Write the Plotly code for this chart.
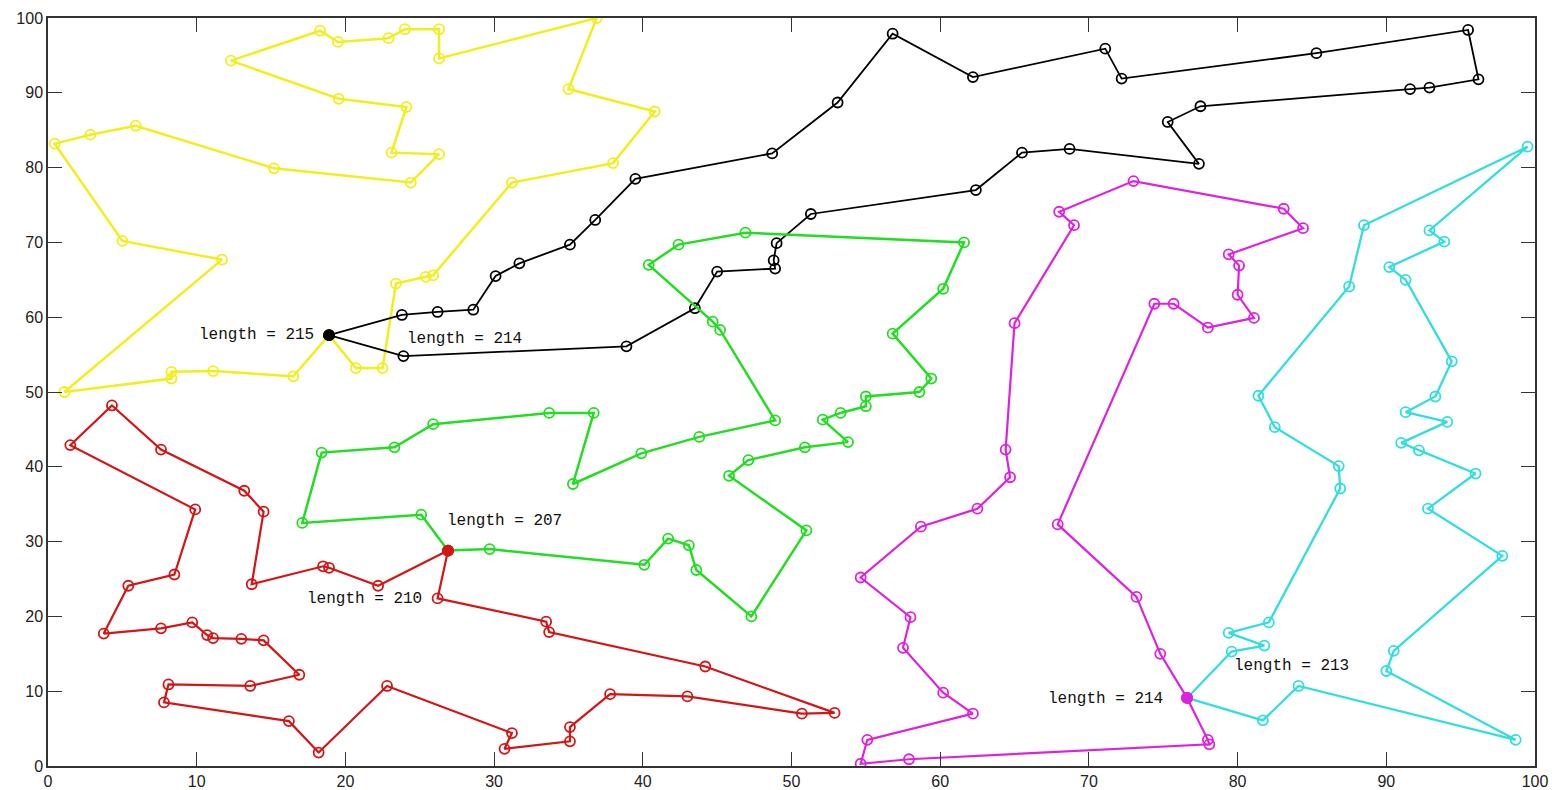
import plotly.graph_objects as go

# Vehicle routes (closed tours starting and ending at their depot)
yellow_x = [18.9, 20.7, 22.5, 23.4, 25.4, 25.9, 31.2, 38.0, 40.8, 35.0, 36.9, 26.3, 26.3, 24.0, 22.9, 19.5, 18.3, 12.3,
            19.55, 24.1, 23.1, 26.3, 24.4, 15.2, 5.9, 2.85, 0.45, 5.0, 11.7, 1.1, 8.3, 8.3, 11.1, 16.5, 18.9]
yellow_y = [57.6, 53.2, 53.2, 64.5, 65.4, 65.6, 78.0, 80.6, 87.5, 90.5, 100.0, 94.6, 98.5, 98.5, 97.3, 96.8, 98.3, 94.3,
            89.2, 88.1, 82.0, 81.8, 78.0, 79.9, 85.6, 84.4, 83.2, 70.2, 67.7, 50.0, 51.8, 52.7, 52.8, 52.1, 57.6]

black_x = [18.9, 23.8, 26.2, 28.6, 30.1, 31.7, 35.1, 36.8, 39.5, 48.7, 53.1, 56.8, 62.2, 71.1, 72.2, 85.3, 95.5, 96.2,
           92.9, 91.6, 77.5, 75.3, 77.4, 68.7, 65.5, 62.4, 51.3, 49.0, 48.8, 48.9, 45.0, 43.5, 38.9, 23.9, 18.9]
black_y = [57.6, 60.3, 60.7, 61.0, 65.5, 67.2, 69.7, 73.0, 78.5, 81.9, 88.7, 97.9, 92.1, 95.9, 91.9, 95.3, 98.4, 91.8,
           90.7, 90.5, 88.2, 86.1, 80.5, 82.5, 82.0, 77.0, 73.8, 69.9, 67.6, 66.5, 66.1, 61.2, 56.1, 54.8, 57.6]

red_x = [26.9, 26.2, 33.5, 33.7, 44.2, 52.9, 50.7, 43.0, 37.8, 35.1, 35.1, 30.7, 31.2, 22.8, 18.2, 16.2, 7.8, 8.1,
         13.6, 16.9, 14.5, 13.0, 11.1, 10.7, 9.7, 7.6, 3.75, 5.4, 8.5, 9.9, 1.5, 4.3, 7.6, 13.2, 14.5, 13.7, 18.5,
         18.9, 22.2, 26.9]
red_y = [28.8, 22.4, 19.3, 17.9, 13.3, 7.1, 7.0, 9.3, 9.6, 5.2, 3.3, 2.3, 4.4, 10.7, 1.8, 6.0, 8.5, 10.9,
         10.7, 12.2, 16.8, 17.0, 17.1, 17.5, 19.2, 18.4, 17.7, 24.1, 25.6, 34.3, 42.9, 48.2, 42.3, 36.8, 34.0, 24.3, 26.7,
         26.5, 24.1, 28.8]

green_x = [26.9, 29.7, 40.1, 41.7, 43.1, 43.6, 47.3, 51.0, 45.8, 47.1, 50.9, 53.8, 52.1, 53.3, 55.0, 55.0, 58.6, 59.4,
           56.8, 60.2, 61.6, 46.9, 42.4, 40.4, 44.7, 45.2, 48.9, 43.8, 39.9, 35.3, 36.7, 33.7, 25.9, 23.3, 18.4, 17.1,
           25.1, 26.9]
green_y = [28.8, 29.0, 26.9, 30.4, 29.5, 26.2, 20.0, 31.5, 38.8, 40.9, 42.6, 43.3, 46.3, 47.2, 48.1, 49.4, 50.0, 51.8,
           57.8, 63.8, 70.0, 71.3, 69.7, 67.0, 59.4, 58.3, 46.2, 44.0, 41.8, 37.7, 47.2, 47.2, 45.7, 42.6, 41.9, 32.5,
           33.6, 28.8]

magenta_x = [76.6, 74.8, 73.2, 67.9, 74.4, 75.7, 78.0, 81.1, 80.0, 80.1, 79.4, 84.4, 83.1, 73.0, 68.0, 69.0, 65.0, 64.4,
             64.7, 62.5, 58.7, 54.65, 58.0, 57.5, 60.2, 62.2, 55.1, 54.65, 57.9, 78.1, 78.0, 76.6]
magenta_y = [9.1, 15.0, 22.6, 32.3, 61.8, 61.8, 58.6, 59.9, 63.0, 66.9, 68.4, 71.9, 74.5, 78.2, 74.1, 72.3, 59.2, 42.3,
             38.6, 34.4, 32.0, 25.2, 19.9, 15.8, 9.8, 7.0, 3.5, 0.3, 0.9, 2.9, 3.5, 9.1]

cyan_x = [76.6, 79.6, 81.8, 79.4, 82.1, 86.9, 86.8, 82.5, 81.4, 87.5, 88.5, 99.5, 92.9, 93.9, 90.2, 91.3, 94.4, 93.3,
          91.3, 94.1, 91.0, 92.2, 96.0, 92.8, 97.8, 90.5, 90.0, 98.7, 84.1, 81.7, 76.6]
cyan_y = [9.1, 15.3, 16.1, 17.8, 19.2, 37.1, 40.1, 45.3, 49.5, 64.1, 72.3, 82.8, 71.6, 70.1, 66.7, 65.0, 54.1, 49.4,
          47.3, 46.0, 43.2, 42.2, 39.1, 34.4, 28.1, 15.4, 12.7, 3.5, 10.7, 6.1, 9.1]

route_lengths = [215, 214, 210, 207, 214, 213]
ticks = [0, 10, 20, 30, 40, 50, 60, 70, 80, 90, 100]

YELLOW, BLACK, RED = "#F2EE1E", "#000000", "#D41515"
GREEN, MAGENTA, CYAN = "#22DD22", "#DD22DD", "#33DDDD"

routes = [
    (yellow_x, yellow_y, YELLOW, 2.5),
    (black_x, black_y, BLACK, 1.8),
    (green_x, green_y, GREEN, 2.5),
    (red_x, red_y, RED, 2.2),
    (cyan_x, cyan_y, CYAN, 2.3),
    (magenta_x, magenta_y, MAGENTA, 2.2),
]

fig = go.Figure()
for xs, ys, color, lw in routes:
    fig.add_trace(go.Scatter(
        x=xs, y=ys, mode="lines+markers",
        line=dict(color=color, width=lw),
        marker=dict(symbol="circle-open", size=10, color=color, line=dict(width=1.8, color=color)),
        showlegend=False, hoverinfo="skip",
    ))

# filled depot markers, one per depot
depots = [
    (black_x[0], black_y[0], BLACK),
    (red_x[0], red_y[0], RED),
    (magenta_x[0], magenta_y[0], MAGENTA),
]
for dx, dy, color in depots:
    fig.add_trace(go.Scatter(
        x=[dx], y=[dy], mode="markers",
        marker=dict(symbol="circle", size=11, color=color),
        showlegend=False, hoverinfo="skip",
    ))

# route length labels: (x, y, anchor, length index)
label_specs = [
    (18.0, 57.6, "right", 0),
    (24.0, 57.1, "left", 1),
    (25.3, 22.3, "right", 2),
    (26.7, 32.8, "left", 3),
    (75.1, 9.0, "right", 4),
    (79.6, 13.4, "left", 5),
]
for lx, ly, anchor, idx in label_specs:
    fig.add_annotation(
        x=lx, y=ly, xref="x", yref="y", text=f"length = {route_lengths[idx]}",
        showarrow=False, xanchor=anchor, yanchor="middle",
        font=dict(family="Liberation Mono", size=16, color="#111111"),
    )

axis_common = dict(
    range=[0, 100], tickvals=ticks, ticktext=[str(t) for t in ticks],
    ticks="inside", ticklen=14, tickwidth=1.2, tickcolor="#333333",
    showline=True, linecolor="#333333", linewidth=1.5, mirror="ticks",
    showgrid=False, zeroline=False, automargin=False,
    tickfont=dict(family="Liberation Sans", size=16, color="#222222"),
)

fig.update_layout(
    width=1558, height=790,
    margin=dict(l=48, r=23, t=18, b=24),
    paper_bgcolor="white", plot_bgcolor="white",
    xaxis=dict(**axis_common),
    yaxis=dict(**axis_common),
    showlegend=False,
)

fig.write_html("out.html")
